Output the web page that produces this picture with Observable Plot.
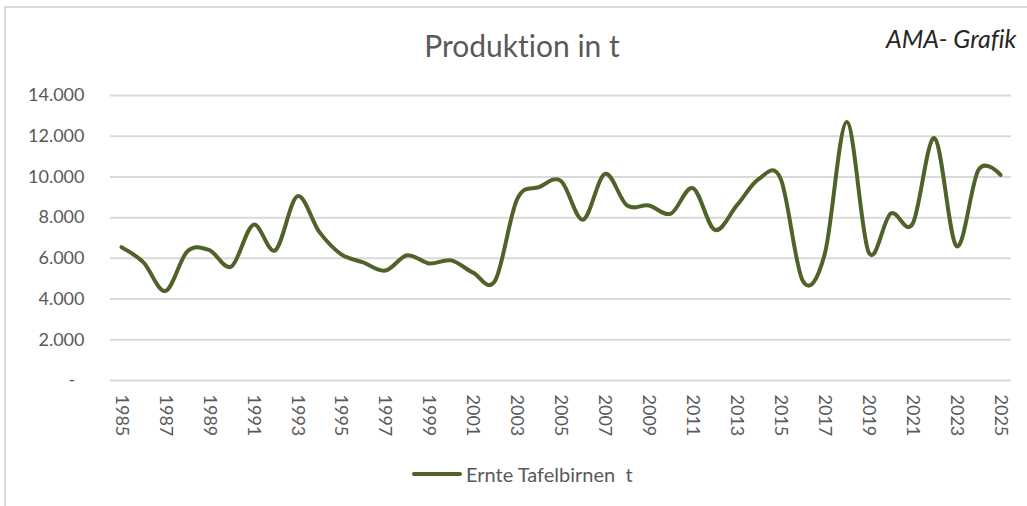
<!DOCTYPE html>
<html>
<head>
<meta charset="utf-8">
<script src="https://cdn.jsdelivr.net/npm/d3@7"></script>
<script src="https://cdn.jsdelivr.net/npm/@observablehq/plot@0.6"></script>
<style>
  html, body { margin: 0; padding: 0; background: #fff; overflow: hidden; }
  #wrap { position: relative; width: 1027px; height: 506px; overflow: hidden; font-family: Lato, "Open Sans", sans-serif; font-variant-ligatures: none; }
  #frame { position: absolute; left: 4px; top: 6px; width: 1040px; height: 520px; border: 2px solid #d9d9d9; box-sizing: border-box; }
  #chart { position: absolute; left: 0; top: 0; }
  #title { position: absolute; left: 0; width: 1044px; top: 30px; text-align: center; font-size: 30px; line-height: 30px; color: #595959; }
  #brand { position: absolute; left: 886px; top: 26px; font-size: 25px; line-height: 25px; font-style: italic; color: #262626; }
  #legend { position: absolute; left: 412px; top: 462px; height: 24px; display: flex; align-items: center; }
  #legend .sw { width: 50px; height: 4px; background: #4F6228; border-radius: 2px; margin-right: 4px; }
  #legend .lb { font-size: 20px; color: #595959; white-space: pre; }
</style>
</head>
<body>
<div id="wrap">
  <div id="frame"></div>
  <div id="chart"></div>
  <div id="title">Produktion in t</div>
  <div id="brand">AMA- Grafik</div>
  <div id="legend"><div class="sw"></div><div class="lb">Ernte Tafelbirnen  t</div></div>
</div>
<script>
const years = [1985,1986,1987,1988,1989,1990,1991,1992,1993,1994,1995,1996,1997,1998,1999,2000,2001,2002,2003,2004,2005,2006,2007,2008,2009,2010,2011,2012,2013,2014,2015,2016,2017,2018,2019,2020,2021,2022,2023,2024,2025];
const ernte = [6550,5800,4400,6350,6400,5600,7650,6400,9050,7300,6200,5800,5400,6150,5750,5900,5300,4900,8900,9500,9800,7900,10150,8600,8600,8200,9450,7400,8600,9900,9900,4900,6200,12700,6300,8200,7700,11900,6600,10350,10100];
const yTicks = [0,2000,4000,6000,8000,10000,12000,14000];
const yTickLabels = ["-\u00a0\u00a0","2.000","4.000","6.000","8.000","10.000","12.000","14.000"];
const xTicks = [1985,1987,1989,1991,1993,1995,1997,1999,2001,2003,2005,2007,2009,2011,2013,2015,2017,2019,2021,2023,2025];
const seriesName = "Ernte Tafelbirnen  t";

const data = years.map((y, i) => ({year: y, value: ernte[i], series: seriesName}));
const yLabel = new Map(yTicks.map((t, i) => [t, yTickLabels[i]]));

const chart = Plot.plot({
  width: 1027,
  height: 450,
  marginLeft: 110,
  marginRight: 16,
  marginTop: 95,
  marginBottom: 70,
  style: { fontFamily: "Lato, 'Open Sans', sans-serif", fontSize: "18px", color: "#595959", background: "transparent" },
  x: { domain: [1984.5, 2025.5], ticks: xTicks, tickFormat: d => String(d), tickRotate: 90, tickSize: 0, tickPadding: 14, label: null },
  y: { domain: [0, 14000], ticks: yTicks, tickFormat: d => yLabel.get(d), tickSize: 0, tickPadding: 26, label: null },
  marks: [
    Plot.gridY(yTicks, { stroke: "#d9d9d9", strokeOpacity: 1, strokeWidth: 2 }),
    Plot.axisY({ ticks: yTicks, tickFormat: d => yLabel.get(d), tickSize: 0, tickPadding: 26, label: null, fill: "#595959" }),
    Plot.axisX({ ticks: xTicks, tickFormat: d => String(d), tickRotate: 90, tickSize: 0, tickPadding: 14, label: null, fill: "#595959" }),
    Plot.line(data, { x: "year", y: "value", stroke: "#4F6228", strokeWidth: 4, curve: "cardinal", tension: 0 })
  ]
});
document.getElementById("chart").appendChild(chart);
</script>
</body>
</html>
